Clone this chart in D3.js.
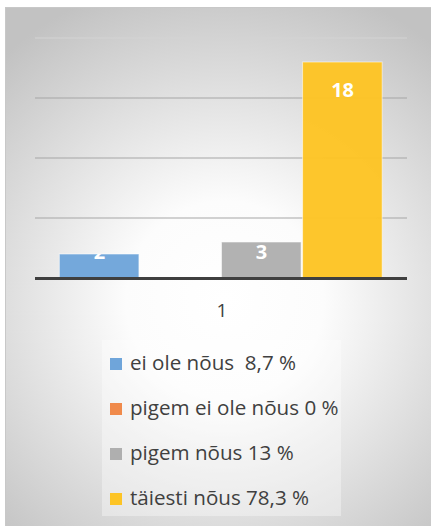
<!DOCTYPE html>
<html>
<head>
<meta charset="utf-8">
<script src="https://cdn.jsdelivr.net/npm/d3@7"></script>
<style>
  body { margin: 0; background: #fff; }
  text { font-family: "Open Sans", "Liberation Sans", sans-serif; }
</style>
</head>
<body>
<svg id="chart" width="431" height="526"></svg>
<script>
// data
const categories = ["ei ole nõus", "pigem ei ole nõus", "pigem nõus", "täiesti nõus"]
const values = [2, 0, 3, 18]
const legend_labels = ["ei ole nõus  8,7 %", "pigem ei ole nõus 0 %", "pigem nõus 13 %", "täiesti nõus 78,3 %"]
const colors = ["#6fa5da", "#f08a4b", "#afafaf", "#fdc425"]
const group_label = ["1"]
const y_ticks = [0, 5, 10, 15, 20]

function render_chart()
{
    let svg = d3.select("#chart")
    let width = +svg.attr("width")
    let height = +svg.attr("height")

    // radial background like the office chart area
    let defs = svg.append("defs")
    let grad = defs.append("radialGradient")
        .attr("id", "bg")
        .attr("gradientUnits", "userSpaceOnUse")
        .attr("cx", 225).attr("cy", 300).attr("r", 330)
    grad.append("stop").attr("offset", "0%").attr("stop-color", "#ffffff")
    grad.append("stop").attr("offset", "30%").attr("stop-color", "#fcfcfc")
    grad.append("stop").attr("offset", "100%").attr("stop-color", "#c2c2c2")

    svg.append("rect")
        .attr("x", 5.5).attr("y", 7.5)
        .attr("width", width - 5).attr("height", height - 7)
        .attr("fill", "url(#bg)")
        .attr("stroke", "#c8c8c8")

    let plot = {left: 35, right: 407, top: 38, bottom: 278}

    let y = d3.scaleLinear()
        .domain([0, 20])
        .range([plot.bottom, plot.top])

    let x0 = d3.scaleBand()
        .domain(group_label)
        .range([plot.left, plot.right])
        .paddingInner(0)
        .paddingOuter(0.0735)

    let x1 = d3.scaleBand()
        .domain(categories)
        .range([0, x0.bandwidth()])
        .padding(0)

    // grid lines
    svg.append("g")
        .selectAll("line")
        .data(y_ticks.slice(1))
        .enter()
        .append("line")
            .attr("x1", plot.left)
            .attr("x2", plot.right)
            .attr("y1", d => y(d))
            .attr("y2", d => y(d))
            .attr("stroke", (d, i) => i == y_ticks.length - 2 ? "#d4d4d4" : "#a6a6a6")
            .attr("stroke-width", 1.2)

    let g = svg.append("g")
        .attr("transform", `translate(${x0("1")},0)`)

    // white labels only show on their own bar (same user space as the labels)
    defs.selectAll("clipPath")
        .data(values)
        .enter()
        .append("clipPath")
            .attr("id", (d, i) => "bar" + i)
        .append("rect")
            .attr("x", (d, i) => x1(categories[i]))
            .attr("y", d => y(d))
            .attr("width", x1.bandwidth())
            .attr("height", d => y(0) - y(d))

    g.selectAll("rect")
        .data(values)
        .enter()
        .append("rect")
            .attr("x", (d, i) => x1(categories[i]) + 0.5)
            .attr("y", d => y(d))
            .attr("width", x1.bandwidth() - 1.5)
            .attr("height", d => y(0) - y(d))
            .attr("fill", (d, i) => colors[i])
            .attr("fill-opacity", d => d > 0 ? 0.97 : 0)
            .attr("stroke", "rgba(255,255,255,0.55)")
            .attr("stroke-width", d => d > 0 ? 1 : 0)

    g.selectAll("text")
        .data(values)
        .enter()
        .append("text")
            .attr("clip-path", (d, i) => `url(#bar${i})`)
            .attr("x", (d, i) => x1(categories[i]) + x1.bandwidth() / 2)
            .attr("y", d => Math.min(y(d) + 35, y(0) - 19))
            .attr("text-anchor", "middle")
            .attr("fill", "#ffffff")
            .attr("font-family", "Liberation Sans, sans-serif")
            .attr("font-size", 20)
            .attr("font-weight", "bold")
            .text(d => d > 0 ? d : "")

    // axis line
    svg.append("line")
        .attr("x1", plot.left).attr("x2", plot.right)
        .attr("y1", y(0) + 0.5).attr("y2", y(0) + 0.5)
        .attr("stroke", "#3f3f3f")
        .attr("stroke-width", 3)

    svg.append("text")
        .attr("x", x0("1") + x0.bandwidth() / 2 + 1)
        .attr("y", 317)
        .attr("text-anchor", "middle")
        .attr("fill", "#404040")
        .attr("font-size", 19)
        .text(group_label[0])

    // legend
    let legend = svg.append("g")
    legend.append("rect")
        .attr("x", 102).attr("y", 340)
        .attr("width", 239).attr("height", 176)
        .attr("fill", "#ffffff")
        .attr("fill-opacity", 0.35)

    let row = d3.scalePoint()
        .domain(categories)
        .range([370, 505])

    let items = legend.selectAll("g.item")
        .data(categories)
        .enter()
        .append("g")
            .attr("transform", d => `translate(110,${row(d)})`)

    items.append("rect")
        .attr("x", 0).attr("y", -12)
        .attr("width", 12).attr("height", 12)
        .attr("fill", (d, i) => colors[i])

    items.append("text")
        .attr("x", 20)
        .attr("y", 0)
        .attr("fill", "#404040")
        .attr("font-size", 20.6)
        .style("white-space", "pre")
        .text((d, i) => legend_labels[i])
}

render_chart()
</script>
</body>
</html>
